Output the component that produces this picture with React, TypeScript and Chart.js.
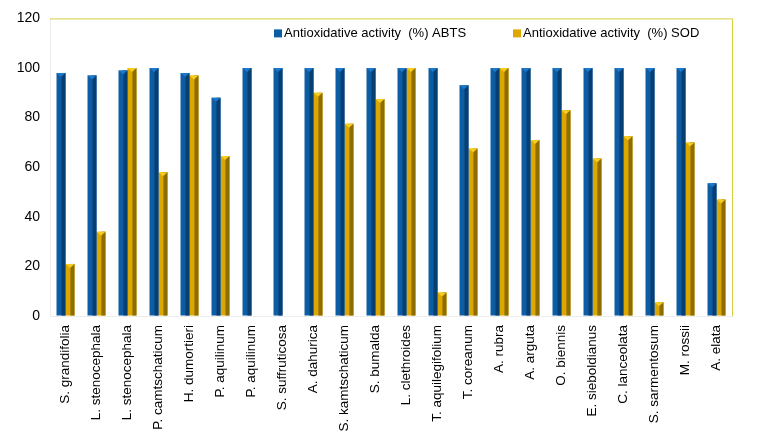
import React, { useEffect, useRef } from "react";
import { Chart, registerables } from "chart.js";
Chart.register(...registerables);

const categories = [
  "S. grandifolia", "L. stenocephala", "L. stenocephala", "P. camtschaticum",
  "H. dumortieri", "P. aquilinum", "P. aquilinum", "S. suffruticosa",
  "A. dahurica", "S. kamtschaticum", "S. bumalda", "L. clethroides",
  "T. aquilegifolium", "T. coreanum", "A. rubra", "A. arguta",
  "O. biennis", "E. sieboldianus", "C. lanceolata", "S. sarmentosum",
  "M. rossii", "A. elata",
];
const abtsValues = [98, 97, 99, 100, 98, 88, 100, 100, 100, 100, 100, 100, 100, 93, 100, 100, 100, 100, 100, 100, 100, 53.5];
const sodValues = [21, 34, 100, 58, 97, 64.5, 0, 0, 90, 77.5, 87.5, 100, 9.5, 67.5, 100, 71, 83, 63.5, 72.5, 5.5, 70, 47];
const seriesLabels = ["Antioxidative activity  (%) ABTS", "Antioxidative activity  (%) SOD"];
const yMin = 0;
const yMax = 120;
const yStep = 20;

const FONT = "'Liberation Sans', Arial, sans-serif";
const mainColors = ["#0D5DA4", "#DCA800"];
const darkColors = ["#083F73", "#8E6D00"];

const shadePlugin = {
  id: "shade",
  afterDatasetsDraw(chart: any) {
    const ctx = chart.ctx;
    chart.data.datasets.forEach((ds: any, di: number) => {
      const meta = chart.getDatasetMeta(di);
      meta.data.forEach((bar: any) => {
        const { x, y, base, width } = bar.getProps(["x", "y", "base", "width"], true);
        if (Math.abs(base - y) < 0.5) return;
        const l = x - width / 2;
        ctx.save();
        ctx.fillStyle = darkColors[di];
        ctx.fillRect(l + width * 0.55, y, width * 0.45, base - y);
        ctx.beginPath();
        ctx.moveTo(l, y);
        ctx.lineTo(l + width, y);
        ctx.lineTo(l + width * 0.5, y + 4);
        ctx.closePath();
        ctx.fillStyle = di === 0 ? "#1E78C8" : "#F5CC20";
        ctx.fill();
        ctx.restore();
      });
    });
  },
};

const framePlugin = {
  id: "frame",
  afterDraw(chart: any) {
    const { ctx, chartArea } = chart;
    ctx.save();
    ctx.strokeStyle = "#D6CF3A";
    ctx.lineWidth = 1;
    ctx.beginPath();
    ctx.moveTo(chartArea.left, chartArea.top + 0.5);
    ctx.lineTo(chartArea.right + 0.5, chartArea.top + 0.5);
    ctx.lineTo(chartArea.right + 0.5, chartArea.bottom);
    ctx.stroke();
    ctx.font = "13px " + FONT;
    ctx.textBaseline = "middle";
    ctx.textAlign = "left";
    const yC = chartArea.top + 15;
    const starts = [chartArea.left + 224, chartArea.left + 463];
    chart.data.datasets.forEach((ds: any, i: number) => {
      const sx = starts[i];
      ctx.fillStyle = mainColors[i];
      ctx.fillRect(sx, yC - 4, 8, 8);
      ctx.fillStyle = "#000";
      ctx.fillText(ds.label, sx + 10, yC);
    });
    ctx.restore();
  },
};

export default function App() {
  const ref = useRef<HTMLCanvasElement>(null);
  useEffect(() => {
    document.body.style.margin = "0";
    const chart = new Chart(ref.current!, {
      type: "bar",
      data: {
        labels: categories,
        datasets: [
          { label: seriesLabels[0], data: abtsValues, backgroundColor: mainColors[0], categoryPercentage: 0.58, barPercentage: 1 },
          { label: seriesLabels[1], data: sodValues, backgroundColor: mainColors[1], categoryPercentage: 0.58, barPercentage: 1 },
        ],
      },
      options: {
        responsive: false,
        animation: false,
        layout: { padding: { top: 13, right: 27, left: 0, bottom: 0 } },
        plugins: { legend: { display: false }, tooltip: { enabled: false } },
        scales: {
          x: {
            grid: { display: true, color: "rgba(0,0,0,0)", drawTicks: false },
            border: { display: true, color: "#EDEDED" },
            ticks: {
              autoSkip: false, maxRotation: 90, minRotation: 90, padding: 9,
              color: "#000", font: { family: FONT, size: 13.5 },
            },
            afterFit: (s: any) => { s.height = 132; },
          },
          y: {
            min: yMin, max: yMax,
            grid: { display: true, color: "rgba(0,0,0,0)", drawTicks: false },
            border: { display: true, color: "#EDEDED" },
            ticks: { stepSize: yStep, padding: 10, color: "#000", font: { family: FONT, size: 14 } },
            afterFit: (s: any) => { s.width = 50; },
          },
        },
      },
      plugins: [shadePlugin, framePlugin],
    });
    return () => chart.destroy();
  }, []);
  return (
    <div style={{ width: 759, height: 448, background: "#fff" }}>
      <canvas ref={ref} width={759} height={448} />
    </div>
  );
}
